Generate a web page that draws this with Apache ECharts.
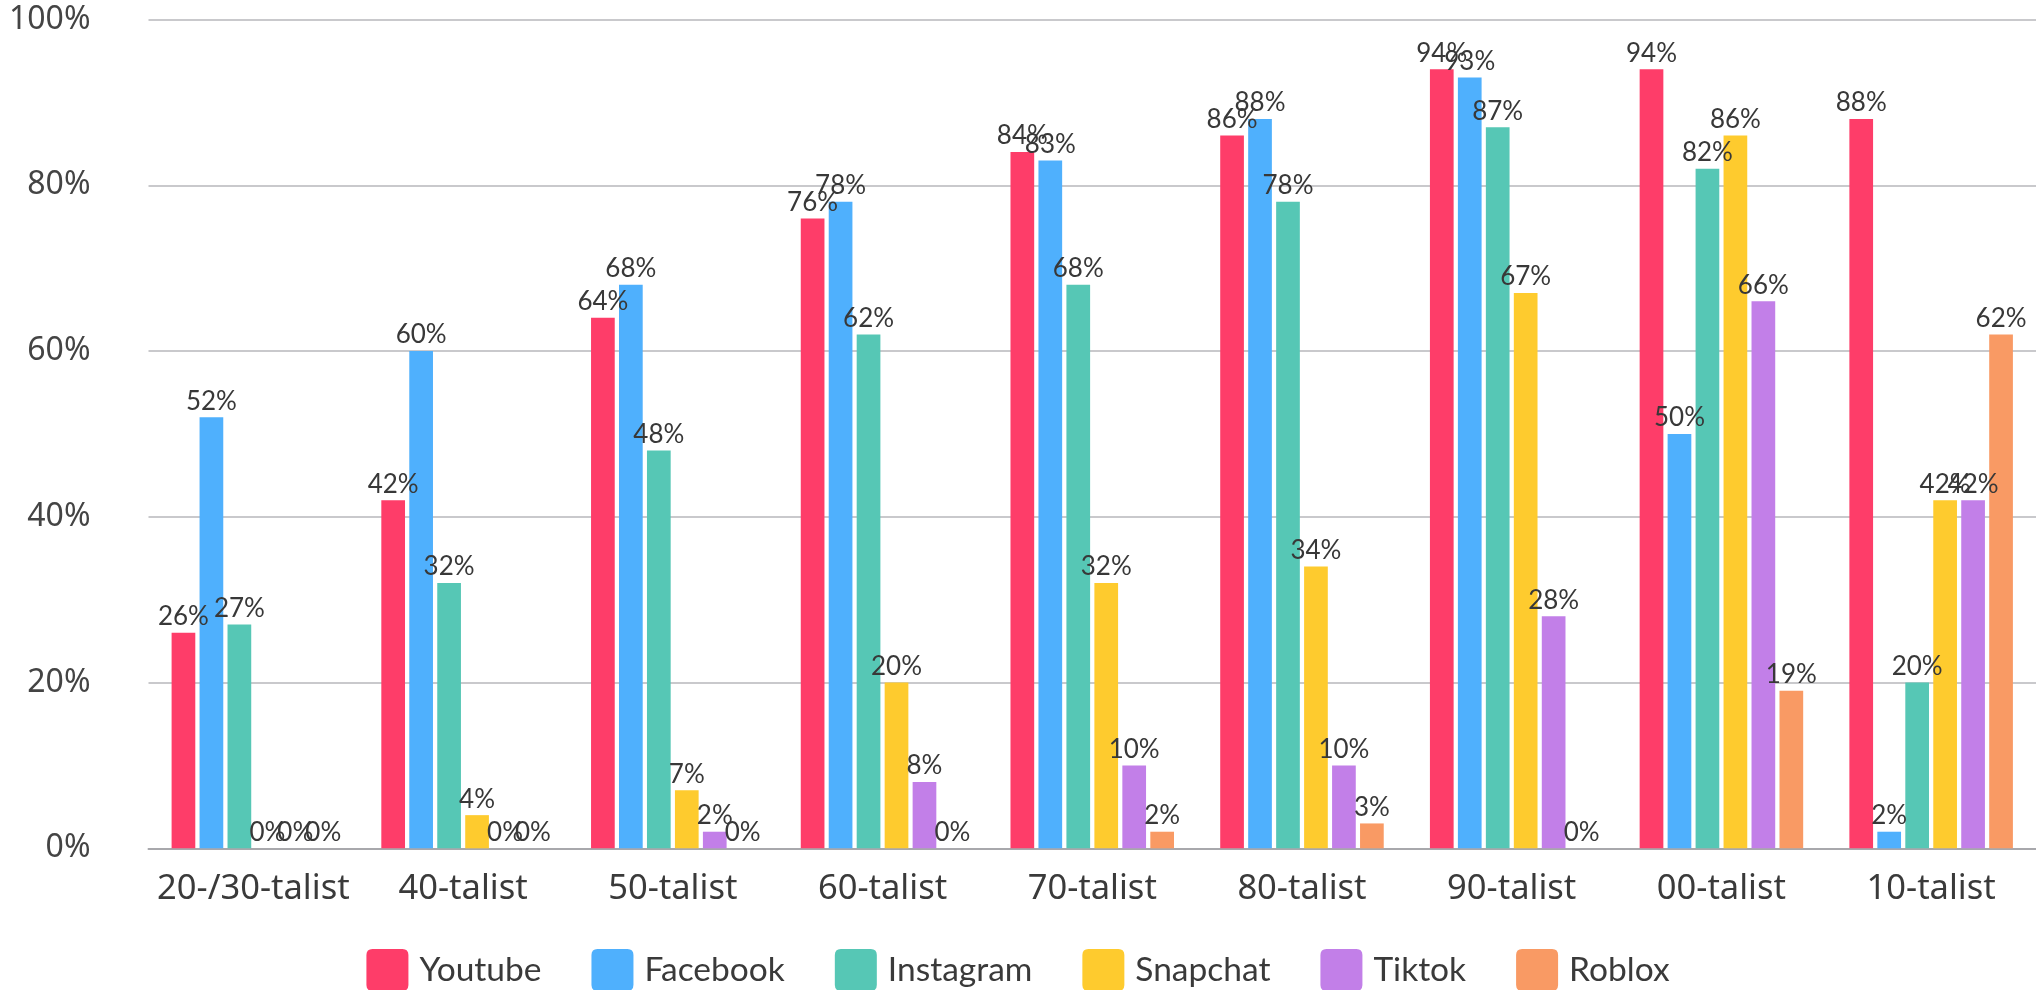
<!DOCTYPE html>
<html>
<head>
<meta charset="utf-8">
<script src="https://cdn.jsdelivr.net/npm/echarts@6/dist/echarts.min.js"></script>
<style>
html,body{margin:0;padding:0;background:#fff;}
#chart{width:2036px;height:990px;}
</style>
</head>
<body>
<div id="chart"></div>
<script>
const categories = ['20-/30-talist','40-talist','50-talist','60-talist','70-talist','80-talist','90-talist','00-talist','10-talist'];
const youtube   = [26, 42, 64, 76, 84, 86, 94, 94, 88];
const facebook  = [52, 60, 68, 78, 83, 88, 93, 50, 2];
const instagram = [27, 32, 48, 62, 68, 78, 87, 82, 20];
const snapchat  = [0, 4, 7, 20, 32, 34, 67, 86, 42];
const tiktok    = [0, 0, 2, 8, 10, 10, 28, 66, 42];
const roblox    = [0, 0, 0, 0, 2, 3, 0, 19, 62];
const seriesNames = ['Youtube','Facebook','Instagram','Snapchat','Tiktok','Roblox'];
const seriesData = [youtube, facebook, instagram, snapchat, tiktok, roblox];
const colors = ['#FE3D69','#4FB0FD','#56C7B5','#FECB2E','#C27FE8','#F99A64'];
const yTicks = [0, 20, 40, 60, 80, 100];

const FONT = 'Lato';
const AXFONT = '"Noto Sans", sans-serif';
const chart = echarts.init(document.getElementById('chart'));
chart.setOption({
  animation: false,
  color: colors,
  textStyle: { fontFamily: FONT },
  legend: {
    data: seriesNames,
    top: 949,
    left: 'center',
    padding: 0,
    itemWidth: 42,
    itemHeight: 42,
    itemGap: 50,
    icon: 'path://M6,0 L36,0 Q42,0 42,6 L42,36 Q42,42 36,42 L6,42 Q0,42 0,36 L0,6 Q0,0 6,0 Z',
    textStyle: { fontFamily: FONT, fontSize: 33.5, color: '#3a3a3a', padding: [0, 0, 0, 6] }
  },
  grid: { left: 148.5, top: 19.5, width: 1908, bottom: 141.7, containLabel: false },
  xAxis: {
    type: 'category',
    data: categories,
    axisTick: { show: false },
    axisLine: { show: true, lineStyle: { color: '#a8a8ac', width: 2 } },
    axisLabel: { fontFamily: AXFONT, fontSize: 34.5, color: '#3a3a3a', margin: 23, interval: 0 }
  },
  yAxis: {
    type: 'value',
    min: yTicks[0],
    max: yTicks[yTicks.length - 1],
    interval: 20,
    axisLine: { show: false },
    axisTick: { show: false },
    splitLine: { lineStyle: { color: '#c9c9cc', width: 2 } },
    axisLabel: { fontFamily: AXFONT, fontSize: 32, color: '#444', margin: 58, formatter: '{value}%' }
  },
  series: seriesNames.map((name, i) => ({
    name: name,
    type: 'bar',
    data: seriesData[i],
    barWidth: 23.7,
    barGap: '18%',
    itemStyle: { color: colors[i] },
    label: {
      show: true,
      position: 'top',
      distance: 3,
      formatter: '{c}%',
      fontFamily: FONT,
      fontSize: 26,
      color: '#383838'
    }
  }))
});
</script>
</body>
</html>
